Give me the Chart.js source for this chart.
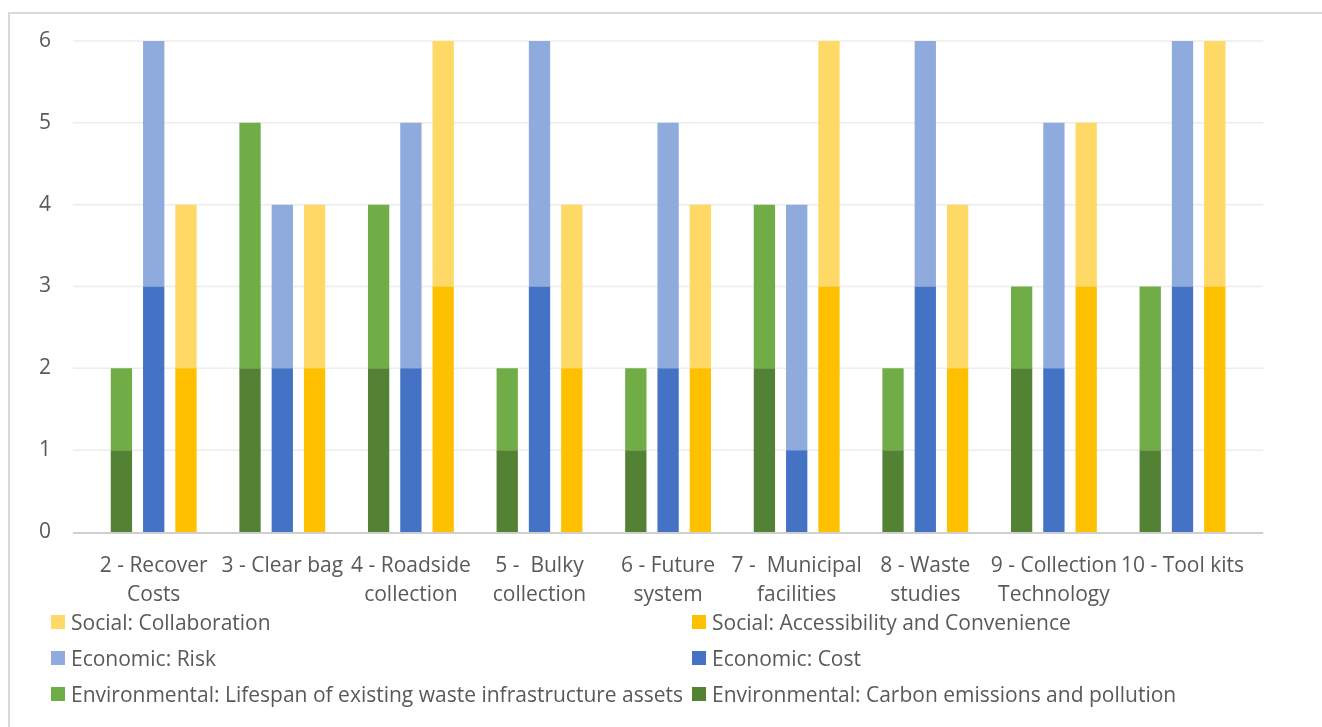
<!DOCTYPE html>
<html>
<head>
<meta charset="utf-8">
<script src="https://cdn.jsdelivr.net/npm/chart.js@4"></script>
<style>
  body { margin: 0; background: #fff; font-family: "Open Sans", sans-serif; }
  #wrap { position: relative; width: 1322px; height: 727px; overflow: hidden; }
  #frame { position: absolute; left: 8px; top: 12px; width: 1400px; height: 800px;
           border-left: 2px solid #d9d9d9; border-top: 2px solid #d9d9d9; }
  canvas { position: absolute; left: 0; top: 0; }
  .item { position: absolute; display: flex; align-items: center; height: 28px;
          font-size: 21px; color: #595959; white-space: nowrap; }
  .item .box { width: 14px; height: 14px; margin-right: 6px; }
</style>
</head>
<body>
<div id="wrap">
  <div id="frame"></div>
  <canvas id="chart" width="1322" height="727"></canvas>
  <div id="legend"></div>
</div>
<script>
// Categories (wrapped the way they appear under the axis)
const categories = [
  ['2 - Recover', 'Costs'],
  '3 - Clear bag',
  ['4 - Roadside', 'collection'],
  ['5 -  Bulky', 'collection'],
  ['6 - Future', 'system'],
  ['7 -  Municipal', 'facilities'],
  ['8 - Waste', 'studies'],
  ['9 - Collection', 'Technology'],
  '10 - Tool kits'
];

const envCarbon   = [1, 2, 2, 1, 1, 2, 1, 2, 1];
const envLifespan = [1, 3, 2, 1, 1, 2, 1, 1, 2];
const econCost    = [3, 2, 2, 3, 2, 1, 3, 2, 3];
const econRisk    = [3, 2, 3, 3, 3, 3, 3, 3, 3];
const socAccess   = [2, 2, 3, 2, 2, 3, 2, 3, 3];
const socCollab   = [2, 2, 3, 2, 2, 3, 2, 2, 3];

const yTicks = [0, 1, 2, 3, 4, 5, 6];

const textColor = '#595959';
const font = { family: '"Open Sans", sans-serif', size: 21 };

// horizontal gridlines run a little past the plot on both sides
const gridLines = {
  id: 'gridLines',
  beforeDatasetsDraw(chart) {
    const { ctx, chartArea, scales: { y } } = chart;
    const ext = 16.4;
    ctx.save();
    ctx.strokeStyle = '#ececec';
    ctx.lineWidth = 1.5;
    yTicks.filter(v => v > 0).forEach(v => {
      const py = y.getPixelForValue(v);
      ctx.beginPath();
      ctx.moveTo(chartArea.left - ext, py);
      ctx.lineTo(chartArea.right + ext, py);
      ctx.stroke();
    });
    ctx.restore();
  },
  afterDatasetsDraw(chart) {
    const { ctx, chartArea, scales: { y } } = chart;
    const ext = 16.4;
    const py = y.getPixelForValue(0) + 1;
    ctx.save();
    ctx.strokeStyle = '#cfcfcf';
    ctx.lineWidth = 2;
    ctx.beginPath();
    ctx.moveTo(chartArea.left - ext, py);
    ctx.lineTo(chartArea.right + ext, py);
    ctx.stroke();
    ctx.restore();
  }
};

const bar = (label, data, color, stack) => ({
  label, data, stack,
  backgroundColor: color,
  borderWidth: 0,
  categoryPercentage: 0.753,
  barPercentage: 0.66
});

const chart = new Chart(document.getElementById('chart'), {
  type: 'bar',
  data: {
    labels: categories,
    datasets: [
      bar('Environmental: Carbon emissions and pollution', envCarbon, '#548235', 'env'),
      bar('Environmental: Lifespan of existing waste infrastructure assets', envLifespan, '#70AD47', 'env'),
      bar('Economic: Cost', econCost, '#4472C4', 'econ'),
      bar('Economic: Risk', econRisk, '#8FAADC', 'econ'),
      bar('Social: Accessibility and Convenience', socAccess, '#FFC000', 'soc'),
      bar('Social: Collaboration', socCollab, '#FFD966', 'soc')
    ]
  },
  options: {
    responsive: false,
    animation: false,
    layout: { padding: { left: 39, top: 41, right: 75.2, bottom: 0 } },
    plugins: { legend: { display: false }, tooltip: { enabled: false } },
    scales: {
      x: {
        stacked: true,
        grid: { display: false, drawTicks: false },
        border: { display: false },
        ticks: { color: textColor, font: { ...font, lineHeight: 1.4 }, padding: 19, maxRotation: 0, autoSkip: false },
        afterFit(s) { s.height = 195; }
      },
      y: {
        stacked: true,
        min: 0, max: 6,
        grid: { display: false, drawTicks: false },
        border: { display: false },
        ticks: { stepSize: 1, color: textColor, font, padding: 0, crossAlign: 'far' },
        afterFit(s) { s.width = 50.4; }
      }
    }
  },
  plugins: [gridLines]
});

// two-column legend, series listed in reverse order
const legendEl = document.getElementById('legend');
const items = chart.data.datasets.map(d => ({ text: d.label, color: d.backgroundColor })).reverse();
const colX = [51, 692];
items.forEach((it, i) => {
  const div = document.createElement('div');
  div.className = 'item';
  div.style.left = colX[i % 2] + 'px';
  div.style.top = (622 + 36 * Math.floor(i / 2) - 14) + 'px';
  div.innerHTML = '<span class="box" style="background:' + it.color + '"></span>' + it.text;
  legendEl.appendChild(div);
});
</script>
</body>
</html>
